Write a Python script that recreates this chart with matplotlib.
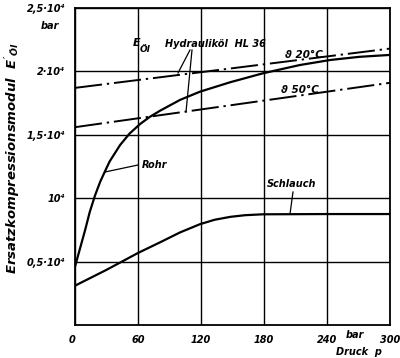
import matplotlib
matplotlib.use("Agg")
import matplotlib.pyplot as plt

# data (p in bar, E in bar)
p_oil = [0, 300]
e_oil_20 = [18700, 21800]
e_oil_50 = [15600, 19100]

p_rohr = [0, 5, 10, 14, 19, 24, 29, 33, 43, 52, 62, 71, 81, 100, 119, 148, 179, 214, 243, 271, 300]
e_rohr = [4600, 6100, 7600, 8900, 10200, 11300, 12200, 12900, 14200, 15100, 15850, 16400,
          16900, 17750, 18400, 19150, 19850, 20500, 20900, 21150, 21300]

p_schlauch = [0, 30, 60, 81, 100, 119, 133, 148, 162, 179, 240, 300]
e_schlauch = [3100, 4350, 5680, 6520, 7300, 7950, 8300, 8530, 8660, 8730, 8750, 8750]

x_ticks = [0, 60, 120, 180, 240, 300]
x_labels = ["0", "60", "120", "180", "240", "300"]
y_ticks = [5000, 10000, 15000, 20000, 25000]
y_labels = ["0,5·10⁴", "10⁴", "1,5·10⁴", "2·10⁴", "2,5·10⁴"]

plt.rcParams['font.family'] = ['DejaVu Sans']
plt.rcParams['font.weight'] = 'bold'
plt.rcParams['font.style'] = 'italic'
plt.rcParams['mathtext.fontset'] = 'custom'
plt.rcParams['mathtext.it'] = 'DejaVu Sans:italic:bold'
plt.rcParams['mathtext.rm'] = 'DejaVu Sans:italic:bold'

W, H = 400, 358
fig = plt.figure(figsize=(W / 100, H / 100), dpi=100)
fig.patch.set_facecolor('white')
ax = fig.add_axes([75 / W, 1 - 325 / H, 315 / W, 317 / H])
ax.set_xlim(0, 300)
ax.set_ylim(0, 25000)

ax.grid(True, color='black', lw=1.0)
ax.set_axisbelow(True)
for s in ax.spines.values():
    s.set_linewidth(1.3)

ax.set_xticks(x_ticks)
ax.set_xticklabels(x_labels)
ax.set_yticks(y_ticks)
ax.set_yticklabels(y_labels)
ax.tick_params(length=0, labelsize=7, pad=7)
ax.get_xticklabels()[0].set_horizontalalignment('right')

dashdot = (0, (14, 2.5, 1.2, 2.5))
ax.plot(p_oil, e_oil_20, color='black', lw=1.4, ls=dashdot)
ax.plot(p_oil, e_oil_50, color='black', lw=1.4, ls=dashdot)
ax.plot(p_rohr, e_rohr, color='black', lw=1.6)
ax.plot(p_schlauch, e_schlauch, color='black', lw=1.6)

def px(x, y):
    # pixel position -> data coordinates
    return (x - 75) / 1.05, (325 - y) * 25000 / 317

# curve labels and leader lines
ax.text(*px(133, 43), "E", fontsize=8, ha='left', va='center')
ax.text(*px(140, 49), "Öl", fontsize=6.5, ha='left', va='center')
ax.text(*px(165, 44), "Hydrauliköl  HL 36", fontsize=7, ha='left', va='center')
for (x0, y0), (x1, y1) in [((190, 50), (178, 73)), ((192, 50), (186, 112))]:
    a, b = px(x0, y0), px(x1, y1)
    ax.plot([a[0], b[0]], [a[1], b[1]], color='black', lw=0.9)

ax.text(*px(285, 55), "ϑ 20°C", fontsize=7.5, ha='left', va='center')
ax.text(*px(281, 90), "ϑ 50°C", fontsize=7.5, ha='left', va='center')

ax.text(*px(142, 165), "Rohr", fontsize=7, ha='left', va='center')
a, b = px(138, 165), px(105, 172)
ax.plot([a[0], b[0]], [a[1], b[1]], color='black', lw=0.9)

ax.text(*px(292, 184), "Schlauch", fontsize=7, ha='center', va='center')
a, b = px(293, 192), px(290, 214)
ax.plot([a[0], b[0]], [a[1], b[1]], color='black', lw=0.9)

# axis labels
fig.text(50 / W, 1 - 26 / H, "bar", fontsize=7, ha='center', va='center')
fig.text(355 / W, 1 - 335 / H, "bar", fontsize=7, ha='center', va='center')
fig.text(359 / W, 1 - 352 / H, "Druck  p", fontsize=7, ha='center', va='center')
fig.text(13 / W, 1 - 158 / H, "Ersatzkompressionsmodul  $E'_{Öl}$", fontsize=9.5,
         rotation=90, ha='center', va='center')

fig.savefig("out.png", dpi=100)
